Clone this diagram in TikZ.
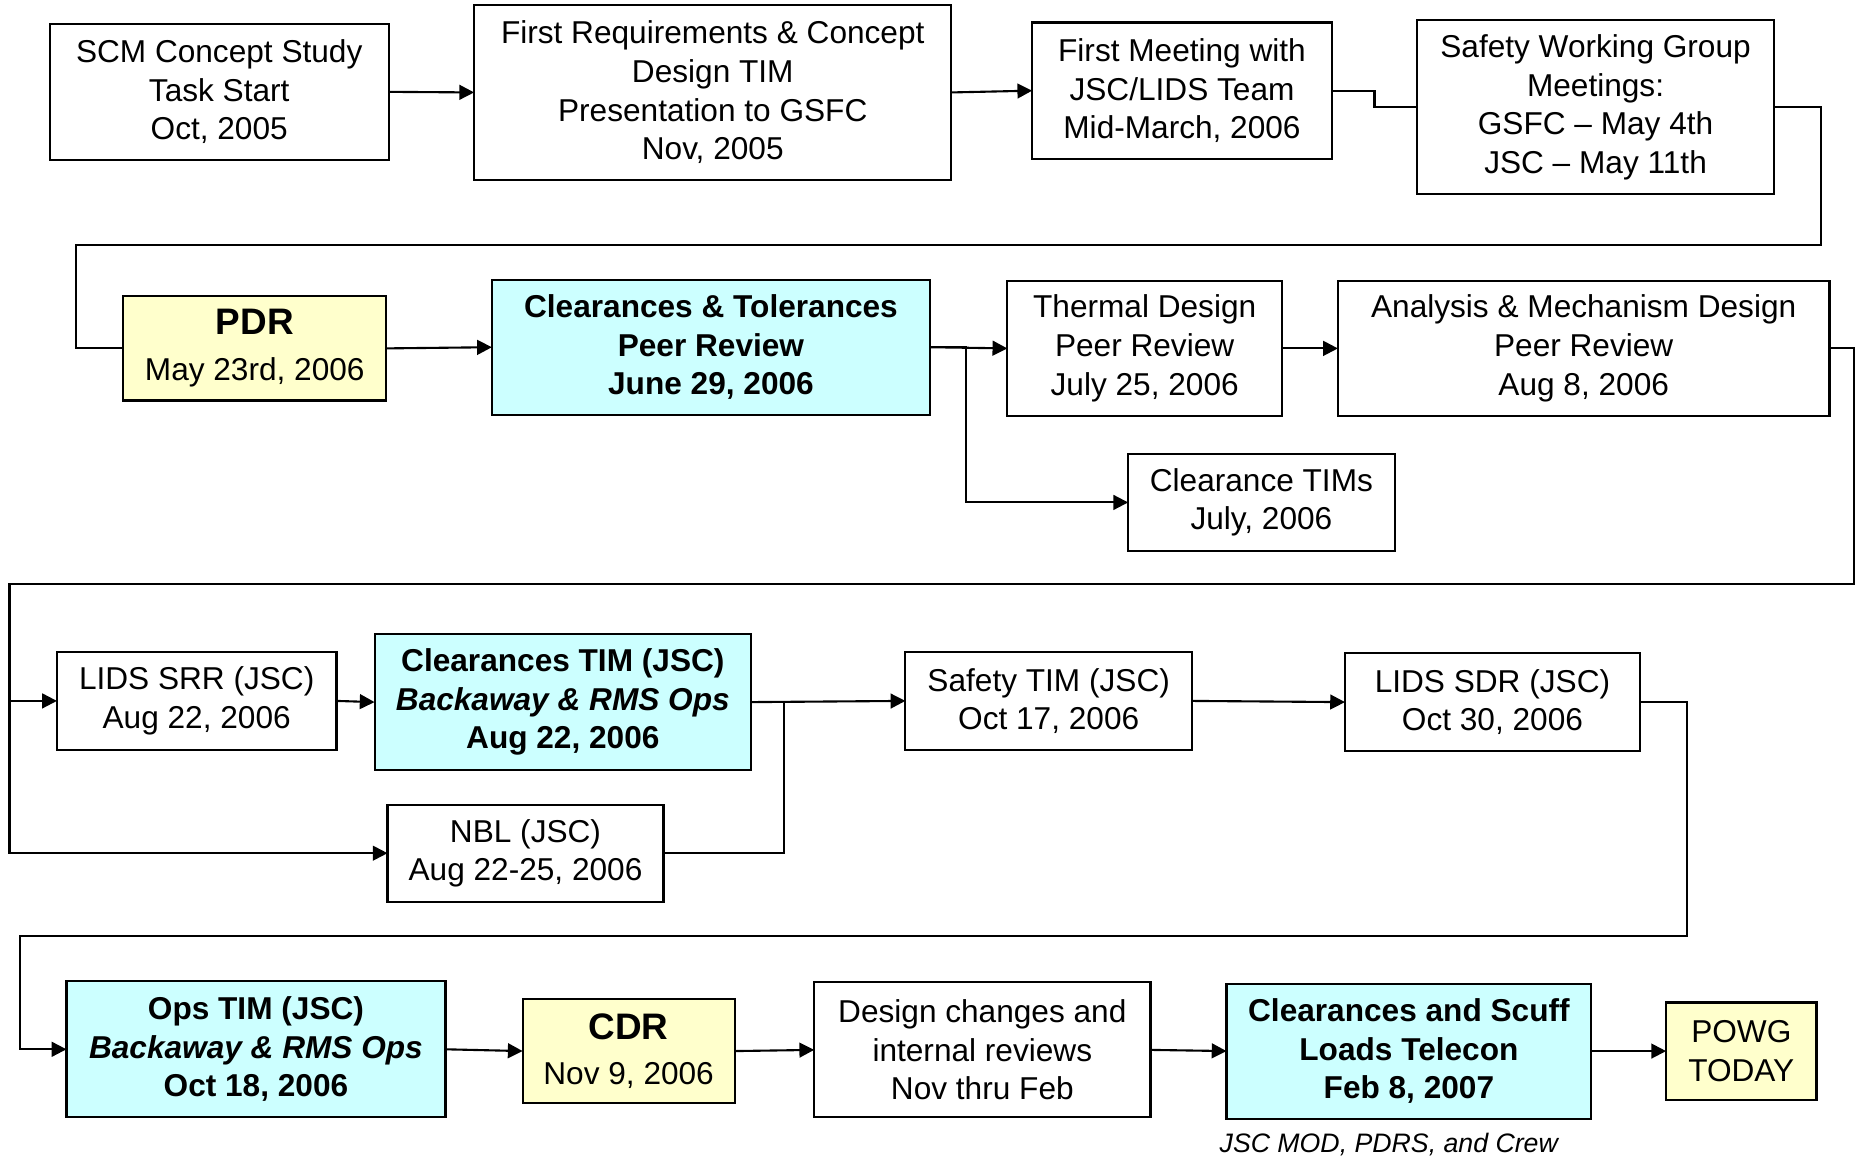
\documentclass[tikz,border=0pt]{standalone}
\usepackage{fontspec}
\setmainfont{Liberation Sans}
\usetikzlibrary{positioning, arrows.meta}
\definecolor{RevCyan}{RGB}{204,255,255}
\definecolor{GateYellow}{RGB}{255,255,204}

\begin{document}
\begin{tikzpicture}[x=0.01185cm, y=-0.01185cm,
    mbox/.style={rectangle, draw, line width=0.6pt, inner sep=0pt, outer sep=0pt,
                 align=center, font=\fontsize{9}{11}\selectfont},
    review/.style={mbox, fill=RevCyan, font=\fontsize{9}{11}\selectfont\bfseries},
    gate/.style={mbox, fill=GateYellow},
    arr/.style={-{Triangle[length=4.2pt, width=4.2pt]}, line width=0.6pt},
    link/.style={line width=0.6pt}
  ]
  \useasboundingbox (0,0) rectangle (1568,977);

  % row 1
  \node[mbox, minimum width=3.39cm, minimum height=1.363cm] (scm) at (185,77.5)
        {SCM Concept Study\\Task Start\\Oct, 2005};
  \node[mbox, minimum width=4.775cm, minimum height=1.754cm] (req) at (601.5,78)
        {First Requirements \& Concept\\Design TIM\\Presentation to GSFC\\Nov, 2005};
  \node[mbox, minimum width=2.998cm, minimum height=1.363cm] (meet) at (997.5,76.5)
        {First Meeting with\\JSC/LIDS Team\\Mid-March, 2006};
  \node[mbox, minimum width=3.567cm, minimum height=1.742cm] (swg) at (1346.5,90.5)
        {Safety Working Group\\Meetings:\\GSFC -- May 4th\\JSC -- May 11th};

  % row 2
  \node[gate, minimum width=2.631cm, minimum height=1.043cm] (pdr) at (215,294)
        {{\fontsize{10.5}{12}\selectfont\bfseries PDR}\\[2pt]May 23rd, 2006};
  \node[review, minimum width=4.384cm, minimum height=1.351cm] (ctpr) at (600,293)
        {Clearances \& Tolerances\\Peer Review\\June 29, 2006};
  \node[mbox, minimum width=2.749cm, minimum height=1.351cm] (therm) at (966,294)
        {Thermal Design\\Peer Review\\July 25, 2006};
  \node[mbox, minimum width=4.918cm, minimum height=1.351cm] (anal) at (1336.5,294)
        {Analysis \& Mechanism Design\\Peer Review\\Aug 8, 2006};
  \node[mbox, minimum width=2.666cm, minimum height=0.972cm] (ctims) at (1064.5,424)
        {Clearance TIMs\\July, 2006};

  % row 3
  \node[mbox, minimum width=2.797cm, minimum height=0.984cm] (srr) at (166,591.5)
        {LIDS SRR (JSC)\\Aug 22, 2006};
  \node[review, minimum width=3.768cm, minimum height=1.363cm] (ctim) at (475,592.5)
        {Clearances TIM (JSC)\\\textit{Backaway \& RMS Ops}\\Aug 22, 2006};
  \node[mbox, minimum width=2.761cm, minimum height=0.972cm] (nbl) at (443.5,720)
        {NBL (JSC)\\Aug 22-25, 2006};
  \node[mbox, minimum width=2.868cm, minimum height=0.984cm] (stim) at (885,591.5)
        {Safety TIM (JSC)\\Oct 17, 2006};
  \node[mbox, minimum width=2.951cm, minimum height=0.984cm] (sdr) at (1259.5,592.5)
        {LIDS SDR (JSC)\\Oct 30, 2006};

  % row 4
  \node[review, minimum width=3.792cm, minimum height=1.363cm] (ops) at (216,885.5)
        {Ops TIM (JSC)\\\textit{Backaway \& RMS Ops}\\Oct 18, 2006};
  \node[gate, minimum width=2.121cm, minimum height=1.043cm] (cdr) at (530.5,887)
        {{\fontsize{10.5}{12}\selectfont\bfseries CDR}\\[2pt]Nov 9, 2006};
  \node[mbox, minimum width=3.365cm, minimum height=1.351cm] (dchg) at (829,886)
        {Design changes and\\internal reviews\\Nov thru Feb};
  \node[review, minimum width=3.65cm, minimum height=1.351cm] (csl) at (1189,887)
        {Clearances and Scuff\\Loads Telecon\\Feb 8, 2007};
  \node[gate, minimum width=1.505cm, minimum height=0.972cm] (powg) at (1469.5,887)
        {POWG\\TODAY};
  \node[font=\fontsize{7.6}{9}\selectfont\itshape] (crew) at (1172,966)
        {JSC MOD, PDRS, and Crew};

  % straight links
  \foreach \a/\b in {scm/req, req/meet, pdr/ctpr, ctpr/therm, therm/anal,
                     srr/ctim, ctim/stim, stim/sdr, ops/cdr, cdr/dchg, dchg/csl, csl/powg}
    \draw[arr] (\a.east) -- (\b.west);

  % stepped and wrap-around links
  \draw[link] (meet.east) -- ++(36,0) |- (swg.west);
  \draw[link] (swg.east) -- ++(40,0) |- (64,207) |- (pdr.west);
  \draw[arr] (ctpr.east) -- ++(30,0) |- (ctims.west);
  \draw[arr] (anal.east) -- ++(21,0) |- (8,493) coordinate (wrap3) |- (srr.west);
  \draw[arr] (wrap3) |- (nbl.west);
  \draw[link] (nbl.east) -- ++(102,0) |- (ctim.east);
  \draw[arr] (sdr.east) -- ++(40,0) |- (17,790) |- (ops.west);
\end{tikzpicture}
\end{document}
